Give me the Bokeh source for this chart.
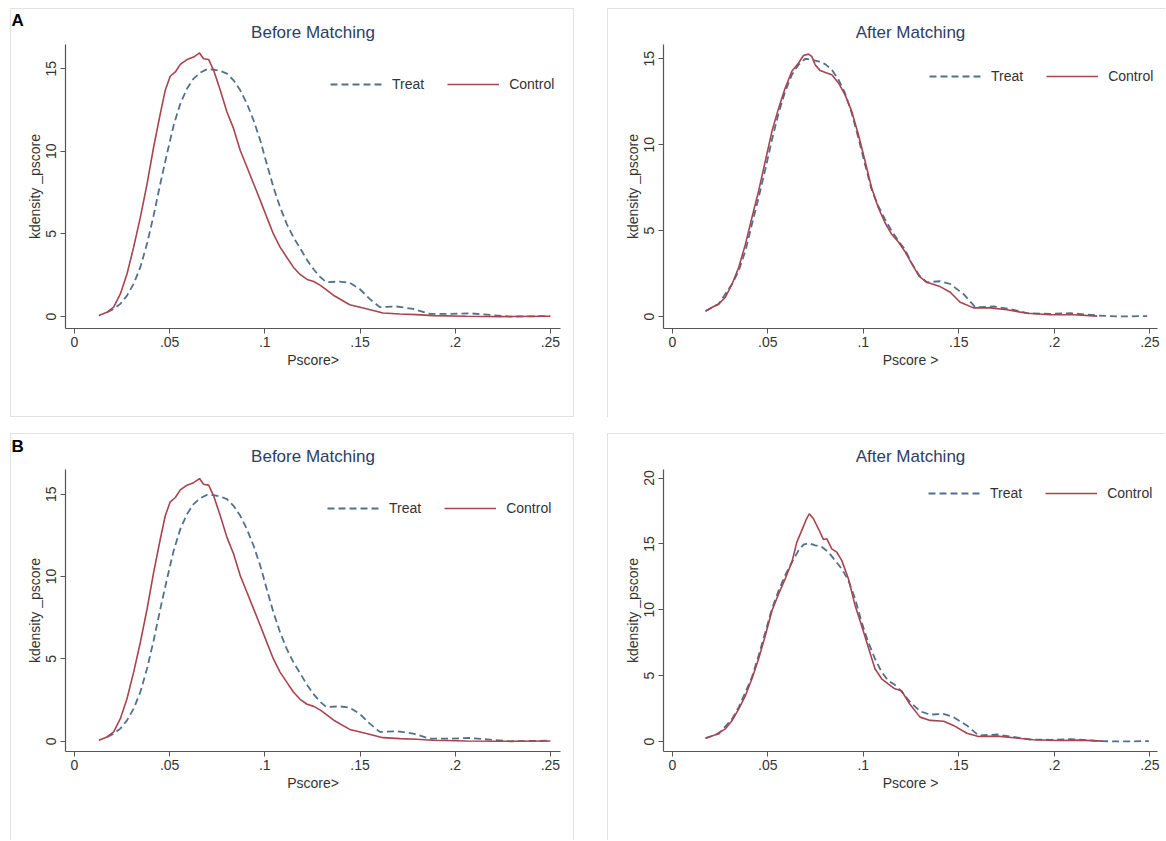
from bokeh.plotting import figure
from bokeh.models import Range1d, FixedTicker, Legend, LegendItem, Title, Spacer
from bokeh.layouts import row, column
from bokeh.embed import file_html
from bokeh.resources import INLINE

FONT = "Liberation Sans"
TREAT_COLOR = "#51708e"
CONTROL_COLOR = "#a8434f"
TITLE_COLOR = "#2e3d63"
TEXT_COLOR = "#333333"
AXIS_COLOR = "#555555"
BORDER = "#e2e2e2"

x_tick_values = [0, 0.05, 0.1, 0.15, 0.2, 0.25]
x_tick_labels = ["0", ".05", ".1", ".15", ".2", ".25"]
series_names = ["Treat", "Control"]

# ---- Before matching (same figure appears in panel A and B) ----
before_treat_x = [.0171, .0206, .0241, .0276, .0311, .0346, .0381, .0416, .0451, .0486, .0521, .0556,
                  .0591, .0626, .0661, .0696, .0731, .0766, .0801, .0836, .0871, .0906, .0941, .0976,
                  .101, .1045, .108, .1115, .115, .1187, .1223, .1257, .129, .1323, .1393, .1446,
                  .1498, .1551, .1604, .1691, .1779, .1867, .1972, .2077, .2182, .2288, .241, .2498]
before_treat_y = [.26, .46, .77, 1.27, 1.98, 2.99, 4.4, 6.12, 8.04, 9.85, 11.57, 12.88,
                  13.79, 14.4, 14.76, 14.96, 14.94, 14.86, 14.7, 14.29, 13.69, 12.88, 11.87, 10.66,
                  9.25, 7.83, 6.62, 5.61, 4.8, 4.1, 3.4, 2.85, 2.4, 2.08, 2.12, 2.04,
                  1.67, 1.07, .57, .61, .47, .16, .16, .2, .1, 0.0, .02, .04]
before_control_x = [.0128, .0171, .0206, .0241, .0276, .0311, .0346, .0381, .0416, .0451, .0477, .0503,
                    .053, .0556, .0591, .0626, .0657, .0678, .0705, .0731, .0766, .0801, .0836, .0871,
                    .0906, .0941, .0976, .101, .1045, .108, .1115, .115, .1185, .1222, .1257, .1292,
                    .1362, .1446, .1533, .1621, .1709, .1796, .1884, .206, .2235, .25]
before_control_y = [.06, .26, .57, 1.37, 2.58, 4.2, 6.0, 8.0, 10.26, 12.28, 13.69, 14.54,
                    14.8, 15.26, 15.55, 15.7, 15.95, 15.6, 15.55, 14.9, 13.69, 12.38, 11.37, 10.05,
                    9.05, 8.04, 7.03, 6.02, 5.0, 4.2, 3.59, 2.99, 2.55, 2.25, 2.12, 1.89,
                    1.28, .72, .47, .22, .16, .12, .06, .02, 0.0, .02]

# ---- After matching, panel A ----
afterA_treat_x = [.0174, .0243, .0313, .0348, .0383, .0417, .0452, .0487, .0522, .0557, .0591, .0626,
                  .0661, .0696, .073, .0765, .08, .0835, .087, .0904, .0939, .0974, .1009, .1043,
                  .1078, .1113, .1148, .1183, .1217, .1252, .1292, .1332, .1402, .1455, .1524, .1586,
                  .1682, .1769, .1857, .1979, .2084, .2224, .2329, .2486]
afterA_treat_y = [.31, .73, 1.89, 2.67, 3.83, 5.37, 6.92, 8.56, 10.3, 11.85, 13.1, 14.07,
                  14.65, 15.0, 14.94, 14.85, 14.69, 14.36, 13.78, 13.01, 11.85, 10.4, 8.85, 7.4,
                  6.44, 5.66, 4.99, 4.41, 3.92, 3.12, 2.4, 1.99, 2.05, 1.89, 1.31, .54,
                  .58, .44, .19, .15, .19, .06, 0.0, .02]
afterA_control_x = [.0174, .0209, .0243, .0278, .0313, .0348, .0383, .0417, .0452, .0487, .0522, .0557,
                    .0591, .0626, .0661, .0687, .0713, .073, .0748, .0774, .0809, .0835, .087, .0904,
                    .0939, .0974, .1009, .1043, .1078, .1113, .1148, .1183, .1217, .1252, .1292, .1332,
                    .1402, .1455, .1507, .1577, .1664, .1752, .1857, .1979, .2101, .2224]
afterA_control_y = [.31, .54, .73, 1.12, 1.89, 2.86, 4.21, 5.76, 7.31, 9.05, 10.79, 12.14,
                    13.3, 14.27, 14.75, 15.19, 15.27, 15.14, 14.65, 14.31, 14.17, 14.07, 13.59, 12.91,
                    11.95, 10.59, 9.05, 7.5, 6.34, 5.47, 4.79, 4.35, 3.8, 3.1, 2.35, 1.99,
                    1.74, 1.41, .83, .5, .5, .39, .19, .1, .1, .02]

# ---- After matching, panel B ----
afterB_treat_x = [.0174, .0243, .0313, .0348, .0383, .0417, .0452, .0487, .0522, .0557, .0591, .0626,
                  .0661, .0687, .0713, .0748, .0783, .0817, .0852, .0887, .0922, .0957, .0991, .1026,
                  .1061, .1096, .113, .1165, .12, .1245, .1297, .135, .142, .1472, .1542, .1603,
                  .17, .1769, .1874, .1979, .2084, .2241, .2346, .2495]
afterB_treat_y = [.25, .58, 1.72, 2.61, 3.75, 4.89, 6.53, 8.3, 10.08, 11.47, 12.61, 13.62,
                  14.51, 14.94, 15.06, 14.89, 14.76, 14.38, 13.75, 13.11, 12.23, 10.84, 9.06, 7.54,
                  6.28, 5.27, 4.63, 4.3, 3.8, 3.0, 2.3, 2.04, 2.09, 1.85, 1.22, .46,
                  .53, .38, .15, .13, .18, .03, 0.0, .03]
afterB_control_x = [.0174, .0226, .0278, .0313, .0348, .0383, .0417, .0452, .0487, .0522, .0557, .0591,
                    .0626, .0652, .0678, .0699, .0717, .0739, .0765, .0791, .0809, .0835, .0861, .0887,
                    .0922, .0957, .0991, .1026, .1061, .1096, .113, .1165, .12, .1245, .1297, .135,
                    .142, .1472, .1542, .1603, .17, .1787, .1892, .2014, .2136, .225]
afterB_control_y = [.25, .51, .96, 1.59, 2.48, 3.49, 4.76, 6.28, 8.05, 9.95, 11.22, 12.35,
                    13.62, 15.14, 16.03, 16.78, 17.29, 16.91, 16.15, 15.34, 15.39, 14.63, 14.38, 13.75,
                    12.35, 10.33, 8.81, 7.16, 5.52, 4.76, 4.38, 4.0, 3.85, 2.8, 1.85, 1.6,
                    1.54, 1.22, .63, .38, .41, .28, .13, .08, .1, .03]


def make_panel(title, letter, xlabel, tx, ty, cx, cy, width, height, borders, xr, yr, yticks,
               legend_xy, title_standoff, letter_standoff, shadow):
    left, right, top, bottom = borders
    p = figure(width=width, height=height, x_range=Range1d(*xr), y_range=Range1d(*yr),
               output_backend="svg", toolbar_location=None,
               min_border_left=left, min_border_right=right,
               min_border_top=top, min_border_bottom=bottom,
               styles={"background-color": "white", "box-shadow": shadow})
    p.border_fill_color = None
    p.background_fill_color = None
    p.outline_line_color = None
    p.grid.visible = False

    # outer title: panel letter
    p.title.text = letter
    p.title.align = "left"
    p.title.offset = -54
    p.title.standoff = letter_standoff
    p.title.text_font = FONT
    p.title.text_font_size = "17px"
    p.title.text_font_style = "bold"
    p.title.text_color = "#000000"

    # inner title: panel heading
    p.add_layout(Title(text=title, align="center", standoff=title_standoff,
                       text_font=FONT, text_font_size="17px", text_font_style="normal",
                       text_color=TITLE_COLOR), "above")

    for ax in (p.xaxis[0], p.yaxis[0]):
        ax.axis_line_color = AXIS_COLOR
        ax.axis_line_width = 1.2
        ax.major_tick_line_color = AXIS_COLOR
        ax.major_tick_out = 5
        ax.major_tick_in = 0
        ax.minor_tick_line_color = None
        ax.major_label_text_font = FONT
        ax.major_label_text_font_size = "14px"
        ax.major_label_text_color = TEXT_COLOR
        ax.axis_label_text_font = FONT
        ax.axis_label_text_font_size = "14px"
        ax.axis_label_text_font_style = "normal"
        ax.axis_label_text_color = TEXT_COLOR

    p.xaxis.ticker = FixedTicker(ticks=x_tick_values)
    p.xaxis.major_label_overrides = dict(zip(x_tick_values, x_tick_labels))
    p.xaxis.axis_label = xlabel
    p.xaxis.major_label_standoff = 3
    p.xaxis.axis_label_standoff = 2

    p.yaxis.ticker = FixedTicker(ticks=yticks)
    p.yaxis.major_label_orientation = "vertical"
    p.yaxis.axis_label = "kdensity _pscore"
    p.yaxis.major_label_standoff = 4
    p.yaxis.axis_label_standoff = 1

    rt = p.line(tx, ty, line_color=TREAT_COLOR, line_width=1.8, line_dash="7 4")
    rc = p.line(cx, cy, line_color=CONTROL_COLOR, line_width=1.6)

    legend = Legend(items=[LegendItem(label=series_names[0], renderers=[rt]),
                           LegendItem(label=series_names[1], renderers=[rc])],
                    orientation="horizontal", location=legend_xy,
                    padding=0, margin=0, spacing=23, glyph_width=52, glyph_height=16,
                    label_height=16, label_standoff=10,
                    border_line_color=None, background_fill_alpha=0,
                    label_text_font=FONT, label_text_font_size="14px",
                    label_text_color=TEXT_COLOR)
    p.add_layout(legend)
    return p


sh_all = f"inset 1px 1px 0 {BORDER}, inset -1px -1px 0 {BORDER}"
sh_tl = f"inset 1px 1px 0 {BORDER}"
sh_bl = f"inset 1px 1px 0 {BORDER}, inset -1px 0 0 {BORDER}"

pA1 = make_panel("Before Matching", "A", "Pscore>", before_treat_x, before_treat_y,
                 before_control_x, before_control_y, 564, 409, (55, 14, 36, 89),
                 (-0.0047, 0.2553), (-0.72, 16.46), [0, 5, 10, 15], (265, 236), 5, -22, sh_all)
pA2 = make_panel("After Matching", "", "Pscore >", afterA_treat_x, afterA_treat_y,
                 afterA_control_x, afterA_control_y, 558, 409, (56, 8, 35, 89),
                 (-0.0046, 0.254), (-0.70, 15.83), [0, 5, 10, 15], (266, 244), 5, 0, sh_tl)
pB1 = make_panel("Before Matching", "B", "Pscore>", before_treat_x, before_treat_y,
                 before_control_x, before_control_y, 564, 407, (55, 14, 36, 88),
                 (-0.0047, 0.2553), (-0.62, 16.5), [0, 5, 10, 15], (262, 235), 7, -28, sh_bl)
pB2 = make_panel("After Matching", "", "Pscore >", afterB_treat_x, afterB_treat_y,
                 afterB_control_x, afterB_control_y, 558, 407, (56, 8, 36, 89),
                 (-0.0046, 0.254), (-0.76, 20.65), [0, 5, 10, 15, 20], (265, 250), 7, 0, sh_tl)

layout = column(
    Spacer(width=1165, height=8),
    row(Spacer(width=10, height=409), pA1, Spacer(width=33, height=409), pA2),
    Spacer(width=1165, height=16),
    row(Spacer(width=10, height=407), pB1, Spacer(width=33, height=407), pB2),
)

open("out.html", "w").write(file_html(layout, INLINE))
